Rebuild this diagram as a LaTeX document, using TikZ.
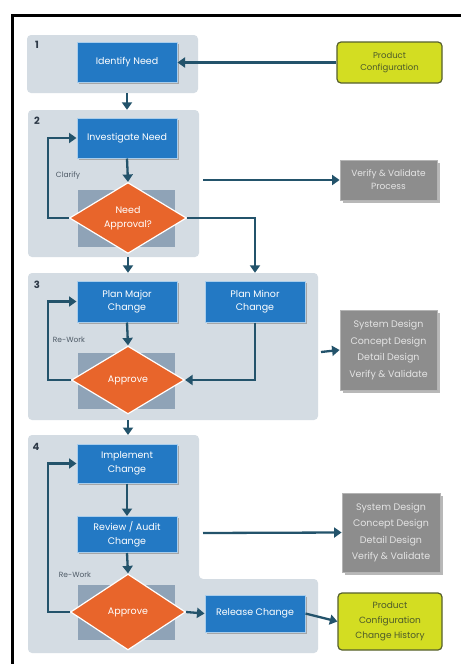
\documentclass[tikz,border=0pt]{standalone}
\usepackage{fontspec}
\setmainfont{Poppins}
\usetikzlibrary{arrows.meta,shapes.geometric,shadows}
\definecolor{panelgray}{HTML}{D4DCE3}
\definecolor{backgray}{HTML}{8FA3B7}
\definecolor{stepblue}{HTML}{2379C4}
\definecolor{stepedge}{HTML}{A9CDEB}
\definecolor{decorange}{HTML}{E8652B}
\definecolor{flowline}{HTML}{23536B}
\definecolor{outgray}{HTML}{8D8D8D}
\definecolor{outedge}{HTML}{B4B4B4}
\definecolor{outtext}{HTML}{E4E4E4}
\definecolor{cfglime}{HTML}{D3DD22}
\definecolor{cfgedge}{HTML}{56602E}
\definecolor{cfgtext}{HTML}{4C5A2A}
\definecolor{numtext}{HTML}{2E3A48}
\definecolor{labtext}{HTML}{4E5A66}

\begin{document}
\begin{tikzpicture}[x=1pt,y=-1pt,
  every node/.style={font=\fontsize{9.5}{13.5}\selectfont, align=center, inner sep=0pt},
  panel/.style={fill=panelgray, rounded corners=4pt},
  stepbox/.style={rectangle, fill=stepblue, draw=stepedge, line width=1pt, text=white,
    minimum width=100pt, minimum height=40pt,
    drop shadow={shadow xshift=1.5pt, shadow yshift=-1.8pt, fill=black!35, opacity=1}},
  backbox/.style={rectangle, fill=backgray, minimum width=97pt, minimum height=57pt},
  decision/.style={diamond, fill=decorange, draw=white, line width=1.2pt, text=white},
  outbox/.style={rectangle, fill=outgray, draw=outedge, line width=0.8pt, text=outtext,
    minimum width=97pt, font=\fontsize{9.5}{16.5}\selectfont,
    drop shadow={shadow xshift=3pt, shadow yshift=-3pt, fill=black!28, opacity=1}},
  cfgbox/.style={rectangle, rounded corners=4pt, fill=cfglime, draw=cfgedge, line width=1.2pt,
    text=cfgtext},
  stagenum/.style={font=\fontsize{10}{10}\selectfont\bfseries, text=numtext},
  looplabel/.style={font=\fontsize{7.5}{8}\selectfont, text=labtext},
  flow/.style={draw=flowline, line width=2.3pt, -{Triangle[width=10pt,length=7.5pt]}}
]
\useasboundingbox (0,0) rectangle (461,664);
\fill[white] (0,0) rectangle (461,664);

% page frame
\draw[line width=3pt] (12.5,664) -- (12.5,15) -- (461,15);

% ---------- stage panels ----------
\node[panel, minimum width=171pt, minimum height=58pt] (p1) at (112.5,64) {};
\node[panel, minimum width=171pt, minimum height=147pt] (p2) at (113.5,183.5) {};
\node[panel, minimum width=290pt, minimum height=147pt] (p3) at (173,346.5) {};
\fill[panel] (28,435) -- (199,435) -- (199,579) -- (318,579) -- (318,653) -- (28,653) -- cycle;
\coordinate (p4top) at (128,435);

\node[stagenum] (n1) at (37,45) {1};
\node[stagenum] (n2) at (37,121) {2};
\node[stagenum] (n3) at (37,285) {3};
\node[stagenum] (n4) at (36,447) {4};

% ---------- stage 1 ----------
\node[stepbox] (identify) at (127,62.5) {Identify Need};
\node[cfgbox, minimum width=105pt, minimum height=41pt, font=\fontsize{8.5}{12}\selectfont]
  (prodcfg) at (389.5,62.5) {Product\\Configuration};

% ---------- stage 2 ----------
\node[stepbox] (investigate) at (127,138) {Investigate Need};
\node[backbox] (back2) at (126.5,218.5) {};
\node[decision, minimum width=117pt, minimum height=66pt] (needappr) at (128,218) {Need\\Approval?};
\node[looplabel] (clarify) at (68,176) {Clarify};
\node[outbox, minimum height=40pt, font=\fontsize{9}{13}\selectfont] (verify) at (388.5,180) {Verify \& Validate\\Process};
\coordinate (p2east) at (203,180);

% ---------- stage 3 ----------
\node[stepbox, minimum height=41pt] (planmajor) at (127,301.5) {Plan Major\\Change};
\node[stepbox, minimum height=41pt] (planminor) at (255,301.5) {Plan Minor\\Change};
\node[backbox, minimum height=56pt] (back3) at (126.5,381) {};
\node[decision, minimum width=113pt, minimum height=68pt] (approve3) at (128,380) {Approve};
\node[looplabel] (rework3) at (69,340) {Re-Work};
\node[outbox, minimum height=80pt] (sysdes1) at (388.5,350) {System Design\\Concept Design\\Detail Design\\Verify \& Validate};
\coordinate (p3east) at (321,352);

% ---------- stage 4 ----------
\node[stepbox, minimum height=39pt] (implement) at (127,463.5) {Implement\\Change};
\node[stepbox, minimum height=36pt] (review) at (127,534.5) {Review / Audit\\Change};
\node[backbox, minimum height=55pt] (back4) at (126.5,612.5) {};
\node[decision, minimum width=115pt, minimum height=76pt] (approve4) at (128,612) {Approve};
\node[looplabel] (rework4) at (75,575) {Re-Work};
\node[stepbox, minimum height=37pt] (release) at (255,613.5) {Release Change};
\node[outbox, minimum width=98pt, minimum height=79pt] (sysdes2) at (391,532.5) {System Design\\Concept Design\\Detail Design\\Verify \& Validate};
\node[cfgbox, minimum width=104pt, minimum height=57pt, font=\fontsize{9}{15}\selectfont]
  (history) at (390,621.5) {Product\\Configuration\\Change History};
\coordinate (reviewout) at (203,533);

% ---------- connectors ----------
\draw[flow] (prodcfg.west) -- (identify.east);
\draw[flow] (p1.south -| identify) -- (p2.north -| identify);

\draw[flow] (investigate.south) -- (needappr.north);
\draw[flow] (needappr.west) -- (48,218) |- (investigate.west);
\draw[flow] (p2east) -- (verify.west);
\draw[flow] (needappr.east) -| (p3.north -| planminor);
\draw[flow] (p2.south -| needappr) -- (p3.north -| needappr);

\draw[flow] (planmajor.south) -- (approve3.north);
\draw[flow] (approve3.west) -- (48,380) |- (planmajor.west);
\draw[flow] (planminor.south) |- (approve3.east);
\draw[flow] (p3east) -- (sysdes1.west);
\draw[flow] (p3.south -| approve3) -- (p4top);

\draw[flow] (implement.south) -- (review.north);
\draw[flow] (review.south) -- (approve4.north);
\draw[flow] (approve4.west) -- (48,612) |- (implement.west);
\draw[flow] (reviewout) -- (sysdes2.west);
\draw[flow] (approve4.east) -- (release.west);
\draw[flow] (release.east) -- (history.west);
\end{tikzpicture}
\end{document}
